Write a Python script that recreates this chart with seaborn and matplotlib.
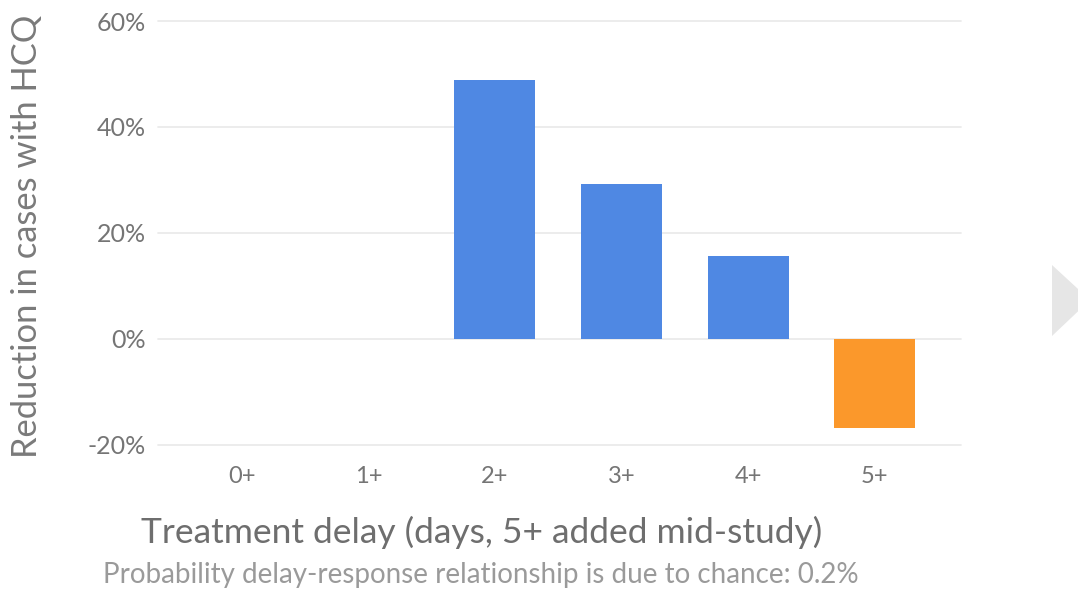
import numpy as np
import pandas as pd
import matplotlib
matplotlib.use("Agg")
import matplotlib.pyplot as plt
import seaborn as sns
from matplotlib.patches import Polygon

# -----------------------------
# DATA
# -----------------------------
delays = ["0+", "1+", "2+", "3+", "4+", "5+"]
reduction = [np.nan, np.nan, 0.489, 0.292, 0.157, -0.168]
group = ["main", "main", "main", "main", "main", "late"]
y_ticks = [-0.2, 0.0, 0.2, 0.4, 0.6]

df = pd.DataFrame({"delay": delays, "reduction": reduction, "group": group})

# -----------------------------
# PLOT
# -----------------------------
sns.set_style("white")
plt.rcParams["font.family"] = ["Lato", "DejaVu Sans"]

fig = plt.figure(figsize=(10.78, 5.9), dpi=100)
ax = fig.add_axes([0.1466, 0.2458, 0.7449, 0.7186])

palette = {"main": "#4f88e3", "late": "#fb982b"}
sns.barplot(data=df, x="delay", y="reduction", hue="group", order=delays,
            palette=palette, saturation=1, width=0.64, dodge=False,
            legend=False, ax=ax, edgecolor="none", zorder=3)

ax.set_xlim(-0.66, 5.68)
ax.set_ylim(-0.2, 0.6)
ax.set_yticks(y_ticks)
ax.set_yticklabels([f"{int(round(t * 100))}%" for t in y_ticks])

for t in y_ticks:
    ax.axhline(t, color="#ebebeb", lw=1.3, zorder=1, clip_on=False)

for s in ax.spines.values():
    s.set_visible(False)

ax.tick_params(axis="y", length=0, pad=9, labelsize=18, labelcolor="#757575")
ax.tick_params(axis="x", length=0, pad=15, labelsize=17, labelcolor="#757575")

ax.set_ylabel("")
ax.set_xlabel("")

# axis titles placed on the figure
fig.text(0.025, 0.6, "Reduction in cases with HCQ", rotation=90,
         ha="center", va="center", fontsize=24.8, color="#7a7a7a")
fig.text(0.447, 0.098, "Treatment delay (days, 5+ added mid-study)",
         ha="center", va="center", fontsize=25.5, color="#6e6e6e")
fig.text(0.446, 0.025, "Probability delay-response relationship is due to chance: 0.2%",
         ha="center", va="center", fontsize=20, color="#9a9a9a")

# grey arrow at the right edge
W, H = 1078, 590
pts = [(1052, 265), (1052, 336), (1090, 300)]
arrow = Polygon([(x / W, 1 - y / H) for x, y in pts], closed=True,
                transform=fig.transFigure, facecolor="#e6e6e6", edgecolor="none")
fig.patches.append(arrow)

fig.savefig("out.png", dpi=100)
